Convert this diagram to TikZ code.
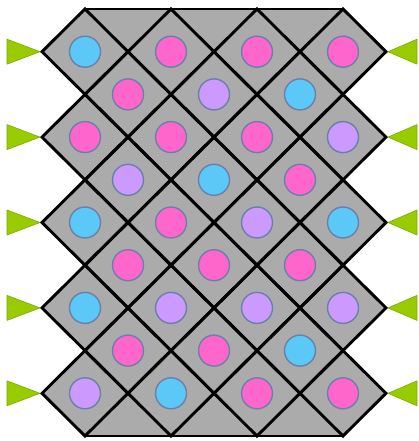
\documentclass[tikz,border=0pt]{standalone}
\definecolor{tilegray}{HTML}{ABABAB}
\definecolor{dotblue}{HTML}{5CC8F8}
\definecolor{dotpink}{HTML}{FF66CC}
\definecolor{dotpurple}{HTML}{CC99FF}
\definecolor{dotedge}{HTML}{6A80A8}
\definecolor{flaggreen}{HTML}{99CC00}
\definecolor{flagedge}{HTML}{7FA800}
\tikzset{
  tileline/.style={black, line width=2.9pt},
  dot/.style={circle, draw=dotedge, line width=1.4pt, minimum size=31pt, inner sep=0pt},
  flag/.style={fill=flaggreen, draw=flagedge, line width=0.6pt, line join=round},
}
\begin{document}
\begin{tikzpicture}[x=1pt,y=-1pt]
\useasboundingbox (0,0) rectangle (419,441);
% gray body
\fill[tilegray] (85,9) -- (343,9)
  \foreach \r in {1,3,5,7} { -- (386,{9+42.7*\r}) -- (343,{9+42.7*(\r+1)}) }
  -- (386,393.3) -- (343,436) -- (85,436) -- (42,393.3)
  \foreach \r in {8,6,4,2} { -- (85,{9+42.7*\r}) -- (42,{9+42.7*(\r-1)}) }
  -- cycle;
% diamonds
\foreach \r in {1,3,5,7,9} {
  \foreach \c in {0,1,2,3} {
    \draw[tileline] ({85+86*\c},{9+42.7*\r-42.7}) -- ({85+86*\c+43},{9+42.7*\r})
      -- ({85+86*\c},{9+42.7*\r+42.7}) -- ({85+86*\c-43},{9+42.7*\r}) -- cycle;
  }
}
\foreach \r in {2,4,6,8} {
  \foreach \c in {0,1,2} {
    \draw[tileline] ({128+86*\c},{9+42.7*\r-42.7}) -- ({128+86*\c+43},{9+42.7*\r})
      -- ({128+86*\c},{9+42.7*\r+42.7}) -- ({128+86*\c-43},{9+42.7*\r}) -- cycle;
  }
}
\draw[tileline] (85,9) -- (343,9);
\draw[tileline] (85,436) -- (343,436);
% dots, odd rows
\foreach \r/\cols in {1/{dotblue,dotpink,dotpink,dotpink},
                       3/{dotpink,dotpink,dotpink,dotpurple},
                       5/{dotblue,dotpink,dotpurple,dotblue},
                       7/{dotblue,dotpurple,dotpurple,dotpurple},
                       9/{dotpurple,dotblue,dotpink,dotpink}} {
  \foreach \col [count=\c from 0] in \cols {
    \node[dot, fill=\col] (d-\r-\c) at ({85+86*\c},{9+42.7*\r}) {};
  }
}
% dots, even rows
\foreach \r/\cols in {2/{dotpink,dotpurple,dotblue},
                       4/{dotpurple,dotblue,dotpink},
                       6/{dotpink,dotpink,dotpink},
                       8/{dotpink,dotpink,dotblue}} {
  \foreach \col [count=\c from 0] in \cols {
    \node[dot, fill=\col] (d-\r-\c) at ({128+86*\c},{9+42.7*\r}) {};
  }
}
% green flags
\foreach \r in {1,3,5,7,9} {
  \draw[flag] (7,{9+42.7*\r-12.5}) -- (40,{9+42.7*\r}) -- (7,{9+42.7*\r+12.5}) -- cycle;
  \draw[flag] (417,{9+42.7*\r-12.5}) -- (388,{9+42.7*\r}) -- (417,{9+42.7*\r+12.5}) -- cycle;
}
\end{tikzpicture}
\end{document}
